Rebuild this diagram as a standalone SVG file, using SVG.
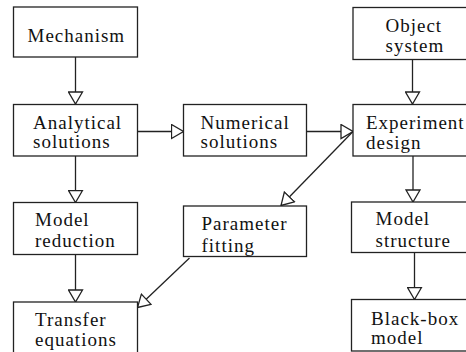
<svg xmlns="http://www.w3.org/2000/svg" width="466" height="352" viewBox="0 0 466 352">
<defs>
<style>
.box{fill:#fff;stroke:#222;stroke-width:1.3}
.lbl{font-family:"Liberation Serif","Times New Roman",serif;font-size:19px;letter-spacing:1px;fill:#111}
.con{stroke:#222;stroke-width:1.3;fill:none;marker-end:url(#ah)}
</style>
<marker id="ah" markerUnits="userSpaceOnUse" markerWidth="14" markerHeight="16" refX="12" refY="7" orient="auto" viewBox="-1 -1 14 16">
<path d="M0,0 L12,7 L0,14 Z" fill="#fff" stroke="#222" stroke-width="1.3"/>
</marker>
</defs>
<rect width="466" height="352" fill="#fff"/>
<g id="connectors">
<line class="con" x1="75.5" y1="57" x2="75.5" y2="104"/>
<line class="con" x1="75.5" y1="156" x2="75.5" y2="202.5"/>
<line class="con" x1="75.5" y1="254.5" x2="75.5" y2="302"/>
<line class="con" x1="137.5" y1="131.5" x2="183.5" y2="131.5"/>
<line class="con" x1="306.5" y1="131.5" x2="353" y2="131.5"/>
<line class="con" x1="412.5" y1="59.5" x2="412.5" y2="104"/>
<line class="con" x1="413" y1="156" x2="413" y2="202"/>
<line class="con" x1="414.5" y1="253" x2="414.5" y2="299.5"/>
<line class="con" x1="353" y1="131.5" x2="281" y2="205.5"/>
<line class="con" x1="189.5" y1="258" x2="137.5" y2="307.5"/>
</g>
<g id="mechanism">
<rect class="box" x="13.5" y="7" width="124" height="50"/>
<text class="lbl" x="27.5" y="41.5">Mechanism</text>
</g>
<g id="analytical">
<rect class="box" x="13.5" y="104.5" width="124" height="51.5"/>
<text class="lbl" x="33" y="128.5">Analytical</text>
<text class="lbl" x="33" y="148">solutions</text>
</g>
<g id="numerical">
<rect class="box" x="183.5" y="104.5" width="123" height="51.5"/>
<text class="lbl" x="200.5" y="128.5">Numerical</text>
<text class="lbl" x="200.5" y="148">solutions</text>
</g>
<g id="object">
<rect class="box" x="353" y="7.5" width="124" height="52"/>
<text class="lbl" x="385.5" y="31.5">Object</text>
<text class="lbl" x="385.5" y="51.5">system</text>
</g>
<g id="experiment">
<rect class="box" x="353" y="104.5" width="124" height="51.5"/>
<text class="lbl" x="366" y="128.5">Experiment</text>
<text class="lbl" x="366" y="148.5">design</text>
</g>
<g id="reduction">
<rect class="box" x="13.5" y="202.5" width="124" height="52"/>
<text class="lbl" x="35" y="226">Model</text>
<text class="lbl" x="35" y="246.5">reduction</text>
</g>
<g id="fitting">
<rect class="box" x="183.5" y="206" width="123" height="50.5"/>
<text class="lbl" x="201.5" y="229.5">Parameter</text>
<text class="lbl" x="201.5" y="251.5">fitting</text>
</g>
<g id="structure">
<rect class="box" x="351.5" y="202" width="125" height="50.5"/>
<text class="lbl" x="375.5" y="224.5">Model</text>
<text class="lbl" x="375.5" y="246.5">structure</text>
</g>
<g id="transfer">
<rect class="box" x="13.5" y="302" width="124" height="60"/>
<text class="lbl" x="35" y="325.5">Transfer</text>
<text class="lbl" x="35" y="346">equations</text>
</g>
<g id="blackbox">
<rect class="box" x="351.5" y="299.5" width="125" height="51.5"/>
<text class="lbl" x="371" y="324.5">Black-box</text>
<text class="lbl" x="371" y="344">model</text>
</g>
</svg>
